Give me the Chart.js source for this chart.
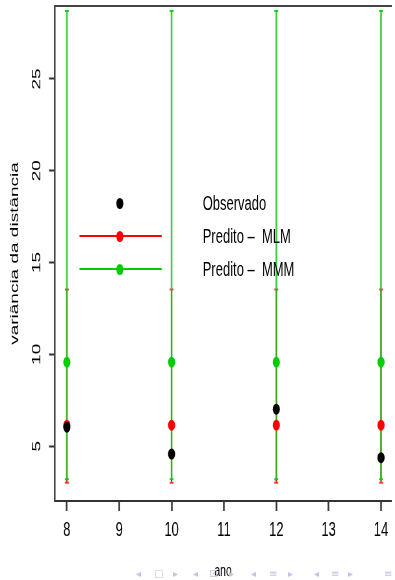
<!DOCTYPE html>
<html><head><meta charset="utf-8">
<script src="https://cdn.jsdelivr.net/npm/chart.js@4"></script>
<style>
html,body{margin:0;padding:0;background:#fff;overflow:hidden;width:395px;height:580px;}
#wrap{position:absolute;left:0;top:0;width:608px;height:580px;transform:scaleX(0.6497);transform-origin:0 0;}
#c{position:absolute;left:0;top:0;}
.lg-text{position:absolute;font-family:"Liberation Sans",Arial,sans-serif;font-size:20px;color:#000;white-space:pre;line-height:20px;}
.lg-line{position:absolute;height:2px;}
.lg-dot{position:absolute;width:11px;height:11px;border-radius:50%;}
.nav{position:absolute;font-family:"DejaVu Sans",sans-serif;font-size:10px;color:#c3c3e2;line-height:10px;}
</style></head>
<body>
<div id="wrap">
<canvas id="c" width="608" height="580"></canvas>
<div id="legend"></div>
</div>
<div id="navbar"></div>
<script>
// ---- data ----
const years = [8, 10, 12, 14];
const observado = [6.03, 4.57, 7.01, 4.37];
const mlmMean = [6.14, 6.14, 6.14, 6.14];
const mlmLow = [3.0, 3.0, 3.0, 3.0];
const mlmHigh = [13.53, 13.53, 13.53, 13.53];
const mmmMean = [9.57, 9.57, 9.57, 9.57];
const mmmLow = [3.2, 3.2, 3.2, 3.2];
const mmmHigh = [28.7, 28.7, 28.7, 28.7];
const xTicks = [8, 9, 10, 11, 12, 13, 14];
const yTicks = [5, 10, 15, 20, 25];
const seriesLabels = ['Observado', 'Predito \u2013  MLM', 'Predito \u2013  MMM'];
const seriesColors = ['#000000', '#ff0000', '#00cd00'];
const xTitle = 'ano';
const yTitle = 'vari\u00e2ncia da dist\u00e2ncia';

function points(xs, ys) { return xs.map((x, i) => ({x: x, y: ys[i]})); }
function bars(xs, lo, hi) {
  const out = [];
  xs.forEach((x, i) => { out.push({x: x, y: lo[i]}, {x: x, y: hi[i]}, {x: x, y: null}); });
  return out;
}

const FONT = '"Liberation Sans", Arial, sans-serif';
const XMIN = 7.773, XMAX = 14.193, YMIN = 2.011, YMAX = 28.97;
function noPad(s) { s.paddingTop = 0; s.paddingBottom = 0; s.paddingLeft = 0; s.paddingRight = 0; }

new Chart(document.getElementById('c'), {
  type: 'scatter',
  data: {
    datasets: [
      {label: seriesLabels[0], data: points(years, observado), backgroundColor: seriesColors[0], borderWidth: 0,
       pointRadius: 5.5, pointStyle: 'circle', order: 0},
      {label: seriesLabels[2], data: points(years, mmmMean), backgroundColor: seriesColors[2], borderWidth: 0,
       pointRadius: 5.5, pointStyle: 'circle', order: 1},
      {label: seriesLabels[1], data: points(years, mlmMean), backgroundColor: seriesColors[1], borderWidth: 0,
       pointRadius: 5.5, pointStyle: 'circle', order: 2},
      {label: 'IC MMM', data: bars(years, mmmLow, mmmHigh), showLine: true, spanGaps: false,
       borderColor: 'rgba(20,200,20,0.85)', borderWidth: 2.6, pointStyle: 'line', pointRadius: 3,
       pointBorderWidth: 2, pointBorderColor: 'rgba(0,205,0,0.9)', order: 3},
      {label: 'IC MLM', data: bars(years, mlmLow, mlmHigh), showLine: true, spanGaps: false,
       borderColor: '#ff0000', borderWidth: 2, pointStyle: 'line', pointRadius: 3,
       pointBorderWidth: 2, pointBorderColor: 'rgba(255,40,40,0.9)', order: 4}
    ]
  },
  options: {
    responsive: false,
    animation: false,
    devicePixelRatio: 1,
    events: [],
    layout: {padding: {top: 5, left: 0, right: 0, bottom: 0}},
    plugins: {legend: {display: false}, tooltip: {enabled: false}},
    scales: {
      x: {
        type: 'linear', position: 'bottom', min: XMIN, max: XMAX,
        afterBuildTicks: s => { s.ticks = xTicks.map(v => ({value: v})); },
        afterFit: s => { s.height = 79; noPad(s); },
        ticks: {font: {family: FONT, size: 20}, color: '#000', padding: 7, autoSkip: false, maxRotation: 0},
        grid: {display: true, drawOnChartArea: false, tickLength: 10, tickColor: '#333', tickWidth: 2.5, color: '#333'},
        border: {display: true, color: '#333', width: 2},
        title: {display: true, text: xTitle, color: '#000', font: {family: FONT, size: 16, lineHeight: 1.1}, padding: 0}
      },
      xt: {
        type: 'linear', position: 'top', min: XMIN, max: XMAX,
        ticks: {display: false}, grid: {display: false},
        border: {display: true, color: '#444', width: 2},
        afterFit: s => { s.height = 0; noPad(s); }
      },
      y: {
        type: 'linear', position: 'left', min: YMIN, max: YMAX,
        afterBuildTicks: s => { s.ticks = yTicks.map(v => ({value: v})); },
        afterFit: s => { s.width = 84.6; noPad(s); },
        ticks: {font: {family: FONT, size: 19}, color: '#000', minRotation: 90, maxRotation: 90,
                crossAlign: 'center', padding: 8},
        grid: {display: true, drawOnChartArea: false, tickLength: 9.2, tickColor: '#333', tickWidth: 2, color: '#333'},
        border: {display: true, color: '#444', width: 2.5},
        title: {display: true, text: yTitle, color: '#000', font: {family: FONT, size: 19}, padding: {top: 11, bottom: 0}}
      }
    }
  }
});

// legend (inside the horizontally-compressed wrapper, unscaled coordinates)
const legend = document.getElementById('legend');
const rowsY = [203, 236, 269];
seriesLabels.forEach((lab, i) => {
  if (i > 0) {
    const ln = document.createElement('div');
    ln.className = 'lg-line';
    ln.style.cssText = 'left:121.5px;width:127.7px;top:' + (rowsY[i] - 1) + 'px;background:' + seriesColors[i] + ';';
    legend.appendChild(ln);
  }
  const d = document.createElement('div');
  d.className = 'lg-dot';
  d.style.cssText = 'left:179px;top:' + (rowsY[i] - 5.5) + 'px;background:' + seriesColors[i] + ';';
  legend.appendChild(d);
  const t = document.createElement('div');
  t.className = 'lg-text';
  t.textContent = lab;
  t.style.cssText = 'left:312px;top:' + (rowsY[i] - 10) + 'px;';
  legend.appendChild(t);
});

// beamer navigation symbols
const navSyms = ['\u25C2','\u25A1','\u25B8','\u25C2','\u22A1','\u25B8','\u25C2','\u2261','\u25B8','\u25C2','\u2261','\u25B8','\u2261'];
const navX = [140, 158, 177, 197, 213, 233, 255, 273, 292, 318, 335, 352, 388];
const nav = document.getElementById('navbar');
navSyms.forEach((s, i) => {
  const e = document.createElement('div');
  e.className = 'nav';
  e.textContent = s;
  e.style.left = (navX[i] - 4) + 'px';
  e.style.top = '569px';
  nav.appendChild(e);
});
</script>
</body></html>
